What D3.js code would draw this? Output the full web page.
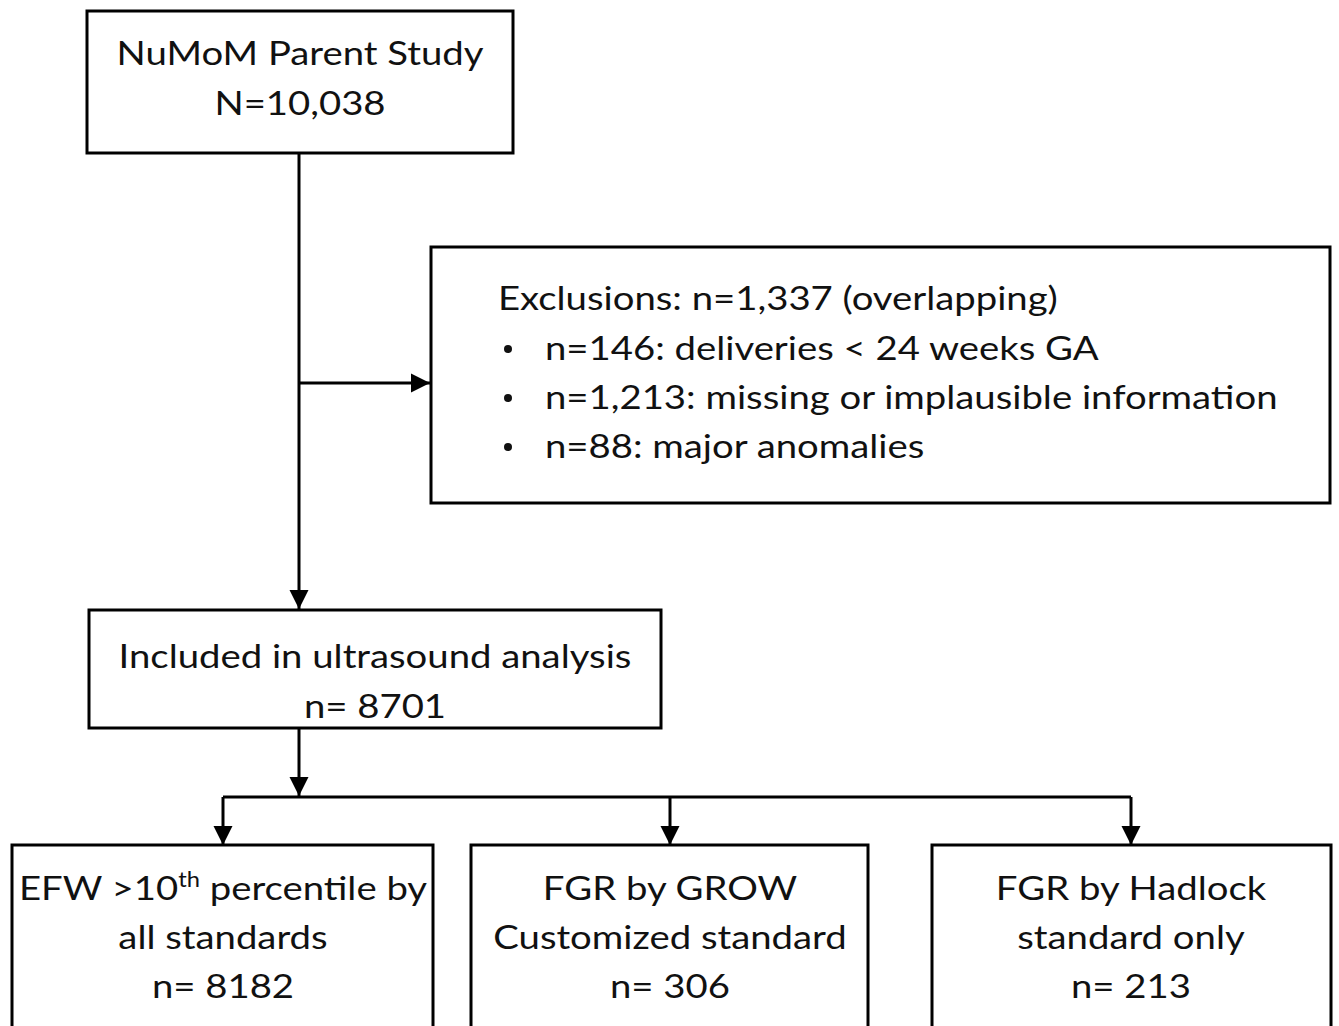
<!DOCTYPE html>
<html><head><meta charset="utf-8">
<script src="https://cdn.jsdelivr.net/npm/d3@7"></script>
<style>html,body{margin:0;padding:0;background:#fff}svg{display:block}</style>
</head><body>
<svg id="c" width="1339" height="1026"></svg>
<script>
// ---- data ----
const parentLines = ["NuMoM Parent Study", "N=10,038"];
const exclusionHeader = "Exclusions: n=1,337 (overlapping)";
const exclusionItems = ["n=146: deliveries < 24 weeks GA", "n=1,213: missing or implausible information", "n=88: major anomalies"];
const includedLines = ["Included in ultrasound analysis", "n= 8701"];
const groupLines = [
  [["EFW >10", "th", " percentile by"], "all standards", "n= 8182"],
  ["FGR by GROW", "Customized standard", "n= 306"],
  ["FGR by Hadlock", "standard only", "n= 213"]
];

// ---- layout ----
const svg = d3.select("#c");
const FONT = "Lato, 'Open Sans', sans-serif";
const FS = 33;
const STRETCH = 1.16;
const SW = 3;

svg.append("defs").append("marker")
  .attr("id","ah").attr("viewBox","0 0 10 10").attr("refX",10).attr("refY",5)
  .attr("markerWidth",6.5).attr("markerHeight",6.5).attr("orient","auto")
  .attr("markerUnits","strokeWidth")
  .append("path").attr("d","M0,0 L10,5 L0,10 Z").attr("fill","#000");

function box(x,y,w,h){
  svg.append("rect").attr("x",x).attr("y",y).attr("width",w).attr("height",h)
    .attr("fill","#fff").attr("stroke","#000").attr("stroke-width",SW);
}
function line(pts, arrow){
  const p = svg.append("path").attr("d", d3.line()(pts))
    .attr("fill","none").attr("stroke","#000").attr("stroke-width",SW);
  if(arrow) p.attr("marker-end","url(#ah)");
}
function text(x,y,s,anchor){
  const t = svg.append("text").attr("x",x).attr("y",y)
    .attr("font-family",FONT).attr("font-size",FS).attr("fill","#111")
    .attr("text-anchor",anchor||"middle");
  if(Array.isArray(s)){
    t.append("tspan").text(s[0]);
    t.append("tspan").attr("font-size",FS*0.62).attr("dy",-13).text(s[1]);
    t.append("tspan").attr("dy",13).text(s[2]);
  } else t.text(s);
  const w = t.node().getComputedTextLength();
  t.attr("textLength", w*STRETCH).attr("lengthAdjust","spacingAndGlyphs");
  return t;
}
function bullet(x,y){
  svg.append("circle").attr("cx",x).attr("cy",y).attr("r",4).attr("fill","#111");
}

// connectors
const spineX = 299;
line([[spineX,153],[spineX,609]], true);
line([[spineX,383],[430,383]], true);
line([[spineX,728],[spineX,796]], true);
const groupCx = [223, 670, 1131];
line([[groupCx[0],797],[groupCx[2],797]], false);
groupCx.forEach(cx => line([[cx,797],[cx,845]], true));

// boxes
box(87,11,426,142);
parentLines.forEach((s,i)=>text(300,65+i*50,s));

box(431,247,899,256);
text(498,310,exclusionHeader,"start");
exclusionItems.forEach((s,i)=>{
  bullet(508,349+i*49);
  text(545,360+i*49,s,"start");
});

box(89,610,572,118);
includedLines.forEach((s,i)=>text(375,668+i*50,s));

const groupBoxes = [[12,433],[471,868],[932,1331]];
groupBoxes.forEach((b,i)=>{
  box(b[0],845,b[1]-b[0],200);
  groupLines[i].forEach((s,j)=>text(groupCx[i],900+j*49,s));
});
</script>
</body></html>
